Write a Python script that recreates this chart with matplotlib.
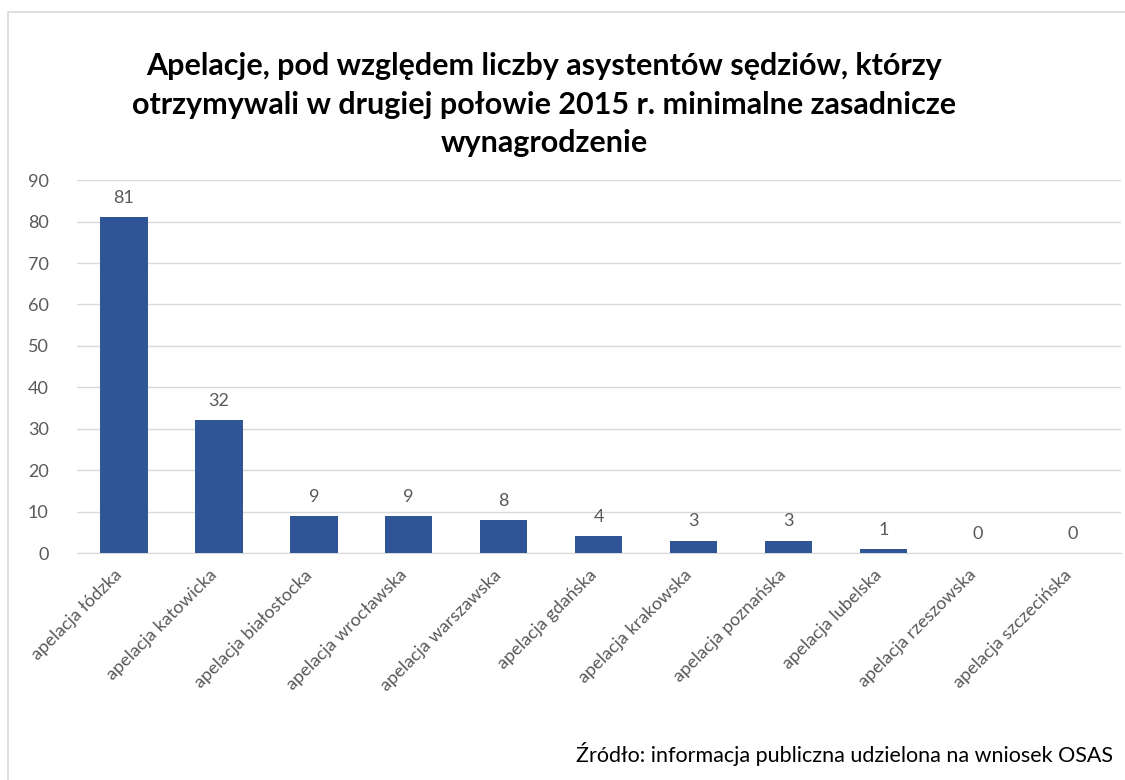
import matplotlib
matplotlib.use("Agg")
import matplotlib.pyplot as plt
import matplotlib.transforms as mtransforms
from matplotlib.patches import Rectangle

categories = ["apelacja łódzka", "apelacja katowicka", "apelacja białostocka",
              "apelacja wrocławska", "apelacja warszawska", "apelacja gdańska",
              "apelacja krakowska", "apelacja poznańska", "apelacja lubelska",
              "apelacja rzeszowska", "apelacja szczecińska"]
values = [81, 32, 9, 9, 8, 4, 3, 3, 1, 0, 0]

title = ("Apelacje, pod względem liczby asystentów sędziów, którzy\n"
         "otrzymywali w drugiej połowie 2015 r. minimalne zasadnicze\n"
         "wynagrodzenie")
source = "Źródło: informacja publiczna udzielona na wniosek OSAS"

plt.rcParams['font.family'] = ['Lato', 'DejaVu Sans']

fig = plt.figure(figsize=(11.25, 7.8), dpi=100)
ax = fig.add_axes([0.068, 0.291, 0.928, 0.478])

# outer frame of the original chart
fig.patches.append(Rectangle((8 / 1125, -0.05), 1.2, 1 - 12 / 780 + 0.05,
                             transform=fig.transFigure, fill=False,
                             edgecolor='#d9d9d9', linewidth=1.2))

x = range(len(categories))
ax.bar(x, values, width=0.5, color='#2f5597', zorder=3)
for xi, v in zip(x, values):
    ax.annotate(str(v), (xi, v), xytext=(0, 8), textcoords='offset points',
                ha='center', va='bottom', fontsize=13, color='#595959')

ax.set_xlim(-0.5, len(categories) - 0.5)
ax.set_ylim(0, 90)
ax.set_yticks(range(0, 91, 10))
ax.grid(axis='y', color='#d9d9d9', linewidth=1, zorder=0)
for s in ['top', 'right', 'left']:
    ax.spines[s].set_visible(False)
ax.spines['bottom'].set_color('#d9d9d9')
ax.tick_params(axis='both', length=0, colors='#595959', labelsize=13)
ax.tick_params(axis='y', pad=20)
ax.set_xticks(list(x))
ax.set_xticklabels(categories, rotation=45, ha='right', rotation_mode='anchor')
ax.tick_params(axis='x', pad=10)
# nudge the rotated labels a bit to the left like in the original
shift = mtransforms.ScaledTranslation(-0.1, 0, fig.dpi_scale_trans)
for lbl in ax.get_xticklabels():
    lbl.set_transform(lbl.get_transform() + shift)

fig.text(0.484, 0.933, title, ha='center', va='top', fontsize=22,
         fontweight='bold', color='black', linespacing=1.45)
fig.text(0.989, 0.018, source, ha='right', va='bottom', fontsize=15.5,
         color='black')

fig.savefig("out.png", dpi=100)
